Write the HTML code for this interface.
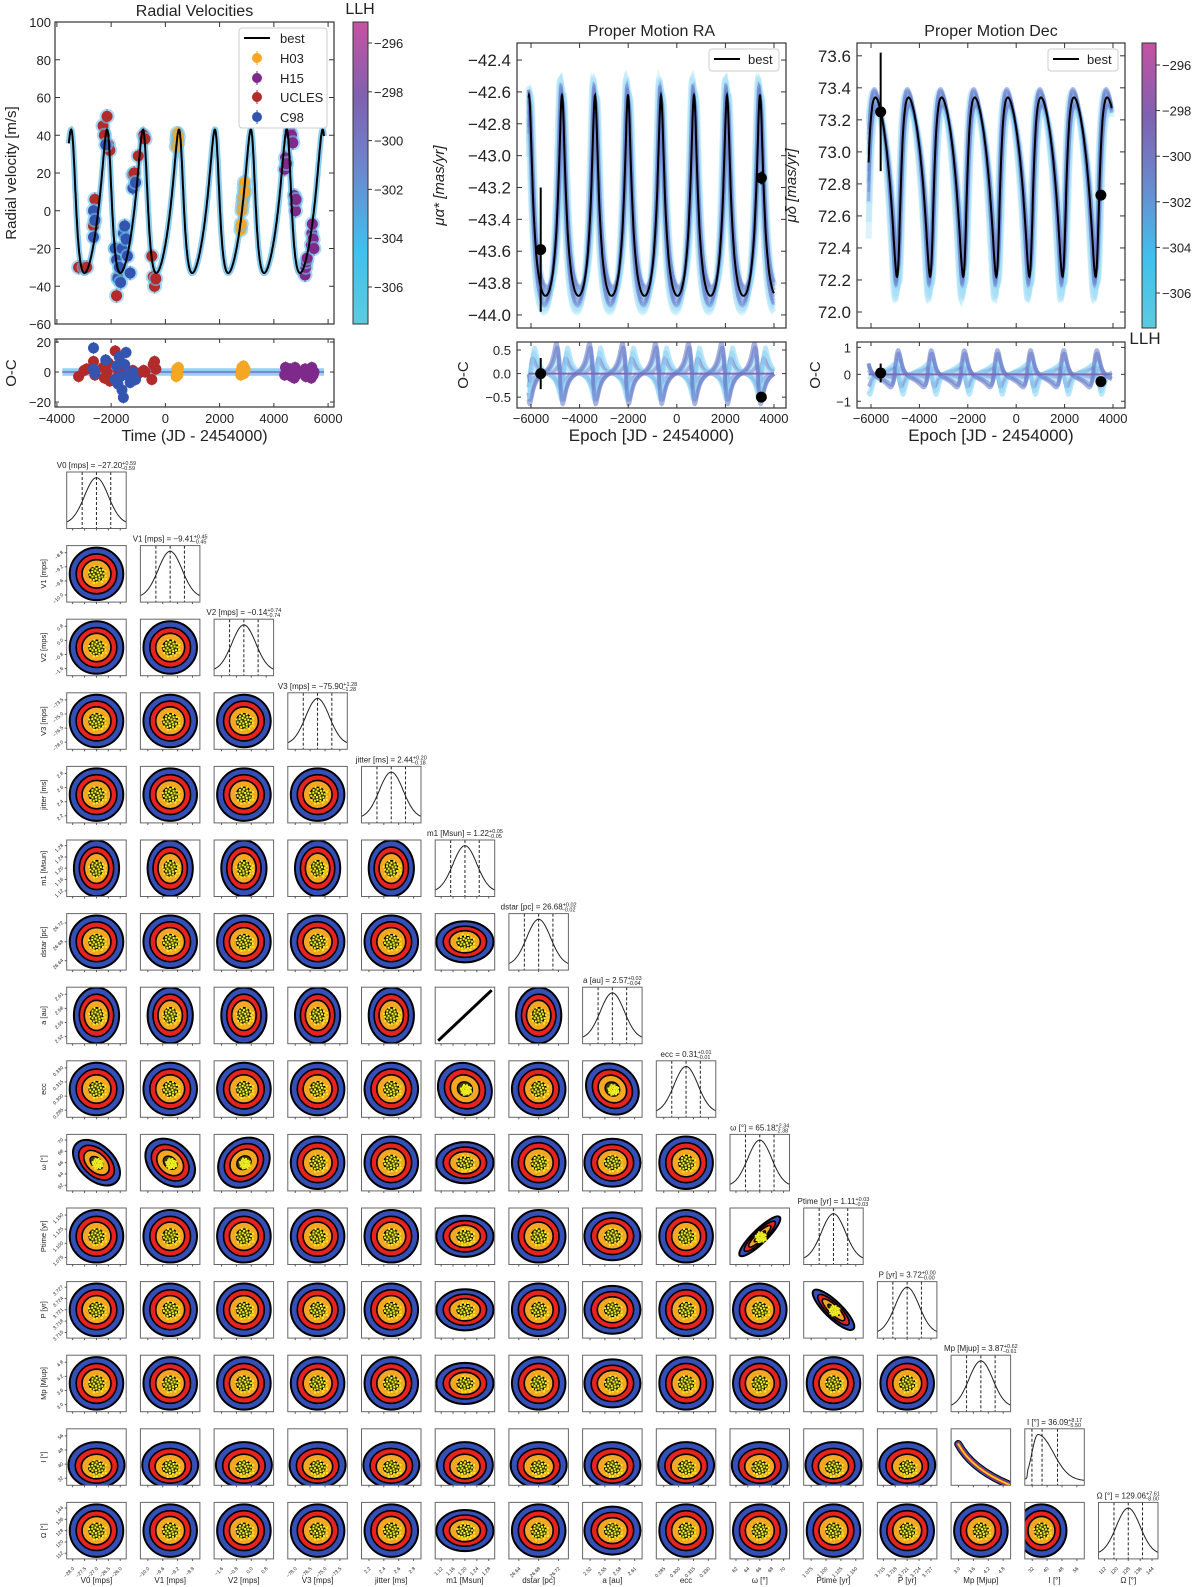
<!DOCTYPE html>
<html><head><meta charset="utf-8">
<style>
html,body{margin:0;padding:0;background:#fff;}
svg{display:block;font-family:"Liberation Sans",sans-serif;}
</style></head>
<body>
<svg id="fig" width="1200" height="1587" viewBox="0 0 1200 1587" xmlns="http://www.w3.org/2000/svg">
<defs>
<linearGradient id="llh" x1="0" y1="1" x2="0" y2="0">
<stop offset="0" stop-color="#5ccbe0"/><stop offset="0.25" stop-color="#3fc0ee"/><stop offset="0.5" stop-color="#6a8ad0"/><stop offset="0.75" stop-color="#8060b0"/><stop offset="1" stop-color="#c752a2"/>
</linearGradient>
</defs>
</svg>
<script>
// ---------- DATA ----------
const c98T=[-2650,-2650,-2600,-2200,-1850,-1800,-1750,-1700,-1650,-1600,-1550,-1500,-1450,-1400,-1300,-1200,-1100];
const c98V=[0,-14,-5,35,-20,-26,-36,-30,-38,-20,-12,-8,-15,-24,-33,12,15];
const c98R=[2,16,-1,8,-5,4,-8,10,-3,-12,-17,5,13,-2,-7,0,-5];
const uclT=[-3200,-3000,-2900,-2650,-2600,-2300,-2250,-2150,-2100,-2050,-1850,-1800,-1750,-1600,-1200,-1150,-1000,-800,-750,-500,-450,-400,-350];
const uclV=[-30,-30,-30,-8,6,45,40,50,35,32,-20,-45,-35,-22,19,20,29,40,38,-24,-35,-40,-36];
const uclR=[-3,1,2,7,-2,3,-4,0,6,-6,14,-4,2,-1,1,0,-1,1,0,-5,5,7,2];
const h03T=[400,420,440,460,480,2780,2800,2820,2840,2860,2880,2900,2920,2940];
const h03V=[34,38,41,36,39,-10,-7,0,3,6,8,12,15,10];
const h03R=[-3,2,0,-2,3,-2,1,3,-1,2,4,-1,0,2];
const h15T=[4400,4430,4470,4600,4650,4700,4750,4780,4800,4820,5150,5180,5200,5230,5380,5400,5420,5450,5480];
const h15V=[22,28,25,42,40,36,8,4,0,6,-34,-30,-27,-25,-18,-12,-7,-15,-20];
const h15R=[-2,3,0,2,-3,1,-4,3,0,-2,2,-3,1,0,-4,3,1,-2,0];
// proper motion measurements
const raT=[-5600,3480], raV=[-43.59,-43.14], raE=[0.39,0.04], raRes=[0.0,-0.5], raResE=[0.33,0.02];
const deT=[-5600,3500], deV=[73.25,72.73], deE=[0.37,0.03], deRes=[0.05,-0.27], deResE=[0.35,0.02];
// orbit model params: [P, featureTime, e, w(deg), lo, hi]
const rvModel=[1325,500,0.31,40,-33,43];
const raModel=[1358,-4724,0.42,0,-43.88,-42.62];
const deModel=[1368,-4926,0.36,40,72.22,73.34];
const bandAmp=[0.9,0.94,0.97,1.03,1.06,1.1,0.92,1.08];
const bandShift=[-70,-45,-20,20,45,70,-90,90];
const llhTicks=[-296,-298,-300,-302,-304,-306];
// corner data
const pNames=["V0 [mps]","V1 [mps]","V2 [mps]","V3 [mps]","jitter [ms]","m1 [Msun]","dstar [pc]","a [au]","ecc","ω [°]","Ptime [yr]","P [yr]","Mp [Mjup]","I [°]","Ω [°]"];
const pMed=["−27.20","−9.41","−0.14","−75.90","2.44","1.22","26.68","2.57","0.31","65.18","1.11","3.72","3.87","36.09","129.06"];
const pUp=["+0.59","+0.45","+0.74","+1.28","+0.20","+0.05","+0.02","+0.03","+0.01","+2.34","+0.03","+0.00","+0.62","+8.17","+7.61"];
const pLo=["−0.59","−0.45","−0.74","−1.28","−0.18","−0.05","−0.02","−0.04","−0.01","−2.38","−0.03","−0.00","−0.61","−5.50","−8.00"];
const pTicks=[["−28.0","−27.5","−27.0","−26.5","−26.0"],["−10.0","−9.6","−9.2","−8.8"],["−1.6","−0.8","0.0","0.8"],["−78.0","−76.5","−75.0","−73.5"],["2.2","2.4","2.6","2.8"],["1.12","1.16","1.20","1.24","1.28"],["26.64","26.68","26.72"],["2.52","2.55","2.58","2.61"],["0.285","0.300","0.315","0.330"],["62","64","66","68","70"],["1.075","1.100","1.125","1.150"],["3.715","3.718","3.721","3.724","3.727"],["3.0","3.6","4.2","4.8"],["32","40","48","56"],["112","120","128","136","144"]];
// correlation overrides: row, col, rho
const corrRow=[9,9,9,10,11,8,8,13];
const corrCol=[0,1,2,9,10,5,7,12];
const corrVal=[-0.45,-0.3,0.2,0.9,-0.85,-0.1,-0.15,-0.95];

// ---------- HELPERS ----------
const NS='http://www.w3.org/2000/svg';
const svg=document.getElementById('fig');
function mk(tag,attrs,parent){const e=document.createElementNS(NS,tag);for(const k in attrs)e.setAttribute(k,attrs[k]);(parent||svg).appendChild(e);return e;}
function txt(x,y,s,size,anchor,parent,extra){const t=mk('text',Object.assign({x:x,y:y,'font-size':size,'text-anchor':anchor||'middle',fill:'#222'},extra||{}),parent);t.textContent=s;return t;}
function lin(a,b,c,d){return v=>c+(v-a)*(d-c)/(b-a);}
function kep(t,P,e,w){let M=2*Math.PI*(((t/P)%1)+1)%(2*Math.PI);let E=M;for(let i=0;i<12;i++)E=E-(E-e*Math.sin(E)-M)/(1-e*Math.cos(E));const nu=2*Math.atan2(Math.sqrt(1+e)*Math.sin(E/2),Math.sqrt(1-e)*Math.cos(E/2));const v=Math.cos(nu+w)+e*Math.cos(w);return (v-(e*Math.cos(w)-1))/2;}
function model(m){const P=m[0],e=m[2],w=m[3]*Math.PI/180;let best=0,bt=0;for(let t=0;t<P;t+=1){const v=kep(t,P,e,w);if(v>best){best=v;bt=t;}}const off=m[1]-bt;return t=>kep(t-off+100*P,P,e,w);}
function frame(x,y,w,h,parent){mk('rect',{x:x,y:y,width:w,height:h,fill:'none',stroke:'#333','stroke-width':1.2},parent);}
function ticksX(g,x,y,w,h,vals,sx,len){vals.forEach(v=>{const X=sx(v);mk('line',{x1:X,y1:y+h,x2:X,y2:y+h-len,stroke:'#333'},g);mk('line',{x1:X,y1:y,x2:X,y2:y+len,stroke:'#333'},g);});}
function ticksY(g,x,y,w,h,vals,sy,len){vals.forEach(v=>{const Y=sy(v);mk('line',{x1:x,y1:Y,x2:x+len,y2:Y,stroke:'#333'},g);mk('line',{x1:x+w,y1:Y,x2:x+w-len,y2:Y,stroke:'#333'},g);});}
function pathFrom(fn,t0,t1,sx,sy,step){let d='';for(let t=t0;t<=t1;t+=step){d+=(d?'L':'M')+sx(t).toFixed(1)+','+sy(fn(t)).toFixed(1);}return d;}
function fmt(v){return (v<0?'−':'')+Math.abs(v);}

// ---------- RADIAL VELOCITY ----------
(function(){
const X0=55,Y0=22,W=279,H=302;
const sx=lin(-4070,6218,X0,X0+W), sy=lin(-60,100,Y0+H,Y0);
const g=mk('g',{});


const t=txt(X0+W/2,16,'Radial Velocities',16,'middle',g);


const cp=mk('clipPath',{id:'rvclip'},g);mk('rect',{x:X0,y:Y0,width:W,height:H},cp);
const f=model(rvModel), lo=rvModel[4], hi=rvModel[5];
const fv=tt=>lo+(hi-lo)*f(tt);
const T0=-3560,T1=5850;
const band=mk('path',{d:pathFrom(fv,T0,T1,sx,sy,8),fill:'none',stroke:'#5ab8ea','stroke-width':6,'stroke-opacity':0.7,'clip-path':'url(#rvclip)'},g);


function pts(T,V,col,name){T.forEach((tt,i)=>{mk('line',{x1:sx(tt),x2:sx(tt),y1:sy(V[i])-7,y2:sy(V[i])+7,stroke:col,'stroke-width':1.5},g);mk('circle',{cx:sx(tt),cy:sy(V[i]),r:7.5,fill:'#6cc3ec','fill-opacity':0.6},g);const d=mk('circle',{cx:sx(tt),cy:sy(V[i]),r:5.5,fill:col},g);

});}
pts(uclT,uclV,'#b22a2a','ucles');pts(c98T,c98V,'#3355b0','c98');pts(h03T,h03V,'#f5a623','h03');pts(h15T,h15V,'#7e2a8a','h15');
const bl=mk('path',{d:pathFrom(fv,T0,T1,sx,sy,8),fill:'none',stroke:'#000','stroke-width':2,'clip-path':'url(#rvclip)'},g);


frame(X0,Y0,W,H,g);
const yt=[-60,-40,-20,0,20,40,60,80,100];
ticksY(g,X0,Y0,W,H,yt,sy,5);ticksX(g,X0,Y0,W,H,[-4000,-2000,0,2000,4000,6000],sx,5);
yt.forEach(v=>txt(X0-4,sy(v)+5,fmt(v),13,'end',g));
const yl=txt(16,Y0+H/2,'Radial velocity [m/s]',15,'middle',g,{transform:'rotate(-90 16 '+(Y0+H/2)+')'});


const lg=mk('g',{},g);


mk('rect',{x:239,y:28,width:88,height:100,fill:'#fff',stroke:'#ccc',rx:3},lg);
mk('line',{x1:244,x2:270,y1:38,y2:38,stroke:'#000','stroke-width':2},lg);txt(280,43,'best',13,'start',lg);
[['H03','#f5a623',58],['H15','#7e2a8a',78],['UCLES','#b22a2a',97],['C98','#3355b0',117]].forEach(a=>{mk('line',{x1:257,x2:257,y1:a[2]-7,y2:a[2]+7,stroke:a[1]},lg);mk('circle',{cx:257,cy:a[2],r:5,fill:a[1]},lg);const e=txt(280,a[2]+5,a[0],13,'start',lg);

});
const cb=mk('rect',{x:353,y:22,width:15,height:302,fill:'url(#llh)',stroke:'#333'},g);


const cbs=lin(-296,-306,43,287);
llhTicks.forEach(v=>{mk('line',{x1:368,x2:372,y1:cbs(v),y2:cbs(v),stroke:'#333'},g);txt(374,cbs(v)+5,fmt(v),13,'start',g);});
txt(360,14,'LLH',16,'middle',g);
const RY=339,RH=68, rsy=lin(-23.3,22,RY+RH,RY);
mk('rect',{x:sx(-3800),y:rsy(2.5),width:sx(5850)-sx(-3800),height:rsy(-2.5)-rsy(2.5),fill:'#62bff0','fill-opacity':0.7},g);
mk('line',{x1:sx(-3800),x2:sx(5850),y1:rsy(0),y2:rsy(0),stroke:'#7a6cc0','stroke-width':1.5},g);
function rpts(T,R,col){T.forEach((tt,i)=>{mk('line',{x1:sx(tt),x2:sx(tt),y1:rsy(R[i])-6,y2:rsy(R[i])+6,stroke:col},g);mk('circle',{cx:sx(tt),cy:rsy(R[i]),r:5.5,fill:col},g);});}
rpts(uclT,uclR,'#b22a2a');rpts(c98T,c98R,'#3355b0');rpts(h03T,h03R,'#f5a623');rpts(h15T,h15R,'#7e2a8a');
frame(X0,RY,W,RH,g);
ticksY(g,X0,RY,W,RH,[-20,0,20],rsy,4);ticksX(g,X0,RY,W,RH,[-4000,-2000,0,2000,4000,6000],sx,4);
[-20,0,20].forEach(v=>txt(X0-4,rsy(v)+5,fmt(v),13,'end',g));
txt(16,RY+RH/2,'O-C',15,'middle',g,{transform:'rotate(-90 16 '+(RY+RH/2)+')'});
[-4000,-2000,0,2000,4000,6000].forEach(v=>txt(sx(v),423,fmt(v),13,'middle',g));
const xl=txt(X0+W/2,441,'Time (JD - 2454000)',16,'middle',g);


})();

// ---------- PROPER MOTION PANELS ----------
function pmPanel(o){
const g=mk('g',{});


const X0=o.x,Y0=43,W=o.w,H=285;
const sx=lin(o.xmin,o.xmax,X0,X0+W), sy=lin(o.ymin,o.ymax,Y0+H,Y0);
txt(X0+W/2,36,o.title,16,'middle',g);
const cid=o.name+'clip';const cp=mk('clipPath',{id:cid},g);mk('rect',{x:X0,y:Y0,width:W,height:H},cp);
const m=o.model,f=model(m),lo=m[4],hi=m[5];
const fv=o.inv?(t=>hi-(hi-lo)*f(t)):(t=>lo+(hi-lo)*f(t));
const t0=-6100,t1=o.tend;
bandAmp.forEach((a,i)=>{const mid=(lo+hi)/2;const fn=t=>mid+(fv(t+bandShift[i])-mid)*a*1.06+o.bandOff;
mk('path',{d:pathFrom(fn,t0,t1,sx,sy,10),fill:'none',stroke:'#8fd6f5','stroke-width':6,'stroke-opacity':0.3,'clip-path':'url(#'+cid+')'},g);});
bandAmp.forEach((a,i)=>{const mid=(lo+hi)/2;const fn=t=>mid+(fv(t+bandShift[i]*0.6)-mid)*a;
const p=mk('path',{d:pathFrom(fn,t0,t1,sx,sy,10),fill:'none',stroke:'#6a7fcc','stroke-width':3,'stroke-opacity':0.45,'clip-path':'url(#'+cid+')'},g);

});
const bl=mk('path',{d:pathFrom(fv,t0,t1,sx,sy,8),fill:'none',stroke:'#000','stroke-width':2,'clip-path':'url(#'+cid+')'},g);


o.T.forEach((t,i)=>{mk('line',{x1:sx(t),x2:sx(t),y1:sy(o.V[i]+o.E[i]),y2:sy(o.V[i]-o.E[i]),stroke:'#000','stroke-width':2},g);const c=mk('circle',{cx:sx(t),cy:sy(o.V[i]),r:5.5,fill:'#000'},g);

});
frame(X0,Y0,W,H,g);
const xt=[-6000,-4000,-2000,0,2000,4000];
ticksX(g,X0,Y0,W,H,xt,sx,5);ticksY(g,X0,Y0,W,H,o.yt,sy,5);
o.yt.forEach(v=>txt(X0-6,sy(v)+6,(v<0?'−':'')+Math.abs(v).toFixed(1),17,'end',g));
const yl=txt(o.ylx,Y0+H/2,o.ylabel,15,'middle',g,{transform:'rotate(-90 '+o.ylx+' '+(Y0+H/2)+')','font-style':'italic'});


const lg=mk('g',{},g);


mk('rect',{x:X0+W-77,y:49,width:70,height:22,fill:'#fff',stroke:'#ccc',rx:3},lg);
mk('line',{x1:X0+W-72,x2:X0+W-46,y1:59,y2:59,stroke:'#000','stroke-width':2},lg);txt(X0+W-38,64,'best',13,'start',lg);
const RY=342,RH=66,rsy=lin(o.rmin,o.rmax,RY+RH,RY);
const rid=cid+'r';const cp2=mk('clipPath',{id:rid},g);mk('rect',{x:X0,y:RY,width:W,height:RH},cp2);
bandAmp.forEach((a,i)=>{const fn=t=>(fv(t+bandShift[i]*2.2)-fv(t))*o.rscale*a;
mk('path',{d:pathFrom(fn,t0,t1,sx,rsy,10),fill:'none',stroke:i%2?'#6a7fcc':'#8fd6f5','stroke-width':4,'stroke-opacity':0.6,'clip-path':'url(#'+rid+')'},g);});
mk('line',{x1:sx(t0),x2:sx(t1),y1:rsy(0),y2:rsy(0),stroke:'#8068b8','stroke-width':2},g);
o.T.forEach((t,i)=>{mk('line',{x1:sx(t),x2:sx(t),y1:rsy(o.R[i]+o.RE[i]),y2:rsy(o.R[i]-o.RE[i]),stroke:'#000','stroke-width':2},g);mk('circle',{cx:sx(t),cy:rsy(o.R[i]),r:5.5,fill:'#000'},g);});
frame(X0,RY,W,RH,g);
ticksX(g,X0,RY,W,RH,xt,sx,4);ticksY(g,X0,RY,W,RH,o.rt,rsy,4);
o.rt.forEach((v,i)=>txt(X0-6,rsy(v)+5,o.rtl[i],13,'end',g));
txt(o.ylx+24,RY+RH/2,'O-C',15,'middle',g,{transform:'rotate(-90 '+(o.ylx+24)+' '+(RY+RH/2)+')'});
xt.forEach(v=>txt(sx(v),423,fmt(v),13,'middle',g));
txt(X0+W/2,441,'Epoch [JD - 2454000)',17,'middle',g);
}
pmPanel({name:'pm-ra-panel',title:'Proper Motion RA',x:517,w:269,xmin:-6576,xmax:4494,ymin:-44.082,ymax:-42.293,
yt:[-44.0,-43.8,-43.6,-43.4,-43.2,-43.0,-42.8,-42.6,-42.4],model:raModel,inv:false,tend:4000,T:raT,V:raV,E:raE,R:raRes,RE:raResE,bandOff:0,
rmin:-0.73,rmax:0.67,rt:[-0.5,0,0.5],rtl:['−0.5','0.0','0.5'],rscale:0.75,ylx:444,ylabel:'μα* [mas/yr]'});
pmPanel({name:'pm-dec-panel',title:'Proper Motion Dec',x:857,w:268,xmin:-6578,xmax:4496,ymin:71.9,ymax:73.68,
yt:[72.0,72.2,72.4,72.6,72.8,73.0,73.2,73.4,73.6],model:deModel,inv:true,tend:3950,T:deT,V:deV,E:deE,R:deRes,RE:deResE,bandOff:-0.05,
rmin:-1.25,rmax:1.2,rt:[-1,0,1],rtl:['−1','0','1'],rscale:1.0,ylx:796,ylabel:'μδ [mas/yr]'});
(function(){const g=mk('g',{});


mk('rect',{x:1142,y:43,width:14,height:285,fill:'url(#llh)',stroke:'#333'},g);
const s=lin(-296,-306,65,293);
llhTicks.forEach(v=>{mk('line',{x1:1156,x2:1160,y1:s(v),y2:s(v),stroke:'#333'},g);txt(1162,s(v)+5,fmt(v),13,'start',g);});
txt(1145,344,'LLH',17,'middle',g);})();

// ---------- CORNER PLOT ----------
(function(){
const g=mk('g',{});


const N=15,CX0=66.7,CY0=472,PX=73.7,PY=73.6,CW=59.5,CH=56.5;
const dots=[];for(let k=0;k<30;k++){const r=Math.sqrt((k+0.5)/30)*0.16,a=k*2.39996;dots.push([r*Math.cos(a),r*Math.sin(a)]);}
function corr(r,c){for(let k=0;k<corrRow.length;k++)if(corrRow[k]===r&&corrCol[k]===c)return corrVal[k];return 0;}
for(let r=0;r<N;r++){for(let c=0;c<=r;c++){
const x=CX0+c*PX,y=CY0+r*PY;
const cell=mk('g',{},g);


const id='cc'+r+'_'+c;const cp=mk('clipPath',{id:id},cell);mk('rect',{x:x,y:y,width:CW,height:CH},cp);
const inner=mk('g',{'clip-path':'url(#'+id+')'},cell);
if(r===c){
 let mu=0.5,s1=0.2,s2=0.2;const dash=[0.26,0.5,0.74];
 if(r===13){mu=0.22;s1=0.1;s2=0.26;dash[0]=0.12;dash[1]=0.29;dash[2]=0.55;}
 let d='';for(let i=0;i<=60;i++){const u=i/60;const s=u<mu?s1:s2;const v=Math.exp(-0.5*((u-mu)/s)**2)*(r===13&&u<0.05?0.35:1);d+=(i?'L':'M')+(x+u*CW).toFixed(1)+','+(y+CH-(0.08+0.82*v)*CH).toFixed(1);}
 const p=mk('path',{d:d,fill:'none',stroke:'#222','stroke-width':1},inner);
 
 
 dash.forEach(u=>mk('line',{x1:x+u*CW,x2:x+u*CW,y1:y,y2:y+CH,stroke:'#222','stroke-dasharray':'3,2','stroke-width':1},inner));
 const tt=txt(x+CW/2,y-4,'',8,'middle',cell);
 tt.innerHTML=pNames[r]+' = '+pMed[r]+'<tspan font-size="5.5" dy="-3">'+pUp[r]+'</tspan><tspan font-size="5.5" dx="-15" dy="5">'+pLo[r]+'</tspan>';
 
 
} else if(r===7&&c===5){
 mk('line',{x1:x+3,y1:y+CH-3,x2:x+CW-3,y2:y+3,stroke:'#000','stroke-width':3},inner);
} else if(r===13&&c===12){
 const d='M'+(x+0.12*CW)+','+(y+0.27*CH)+' Q'+(x+0.35*CW)+','+(y+0.72*CH)+' '+(x+1.0*CW)+','+(y+1.0*CH);
 [['#000',8],['#3450b8',6],['#e8231f',3.5],['#f5a623',2],['#f0f020',0.8]].forEach(s=>mk('path',{d:d,fill:'none',stroke:s[0],'stroke-width':s[1],'stroke-linecap':'round'},inner));
} else {
 const rho=corr(r,c);
 let cx=x+CW/2,cy=y+CH/2,ax=0.45*CW,ay=0.46*CH;
 if((r===5||r===7)&&c<7&&c!==5){ax=0.38*CW;ay=0.49*CH;}
 if(c===5&&r>5){ax=0.48*CW;ay=0.36*CH;}
 if(c===7&&r>7){ax=0.47*CW;ay=0.42*CH;}
 if(r===13){cy=y+0.64*CH;ay=0.40*CH;ax=0.47*CW;}
 if(r===14&&c===13){cx=x+0.28*CW;ax=0.42*CW;}
 if(rho!==0){const ar=Math.abs(rho);ax=0.45*CW/Math.sqrt(1+ar)*1.05;ay=0.46*CH/Math.sqrt(1+ar)*1.05;}
 const ang=rho>0?-45:45,ar=Math.abs(rho);
 const a1=Math.sqrt(1+ar),a2=Math.sqrt(1-ar+0.02);
 [[1,'#3450b8',2],[0.76,'#e8231f',1.6],[0.54,'#f5a623',1.6],[0.28,'#3a3a10',1.2]].forEach(L=>{
  let ycc=cy;if(r===13)ycc=cy+(1-L[0])*0.06*CH;
  const e=mk('ellipse',{cx:0,cy:0,rx:a1*L[0],ry:a2*L[0],fill:L[1],stroke:'#000','stroke-width':L[2],'vector-effect':'non-scaling-stroke',transform:'translate('+cx.toFixed(1)+','+ycc.toFixed(1)+') scale('+ax.toFixed(2)+','+ay.toFixed(2)+') rotate('+(rho===0?0:ang)+')'},inner);
  
  
 });
 const dg=mk('g',{transform:'translate('+cx.toFixed(1)+','+(r===13?cy+0.05*CH:cy).toFixed(1)+')'},inner);
 dots.forEach((p,k)=>mk('rect',{x:(p[0]*CW*(rho?0.6:1)).toFixed(1),y:(p[1]*CH*(rho?0.6:1)).toFixed(1),width:2,height:2,fill:'#f0f020'},dg));
}
mk('rect',{x:x,y:y,width:CW,height:CH,fill:'none',stroke:'#666','stroke-width':1},cell);
const tl=pTicks[c];
tl.forEach((s,k)=>{const u=(k+0.5)/tl.length;mk('line',{x1:x+u*CW,x2:x+u*CW,y1:y+CH,y2:y+CH+2,stroke:'#555'},cell);});
if(c===0&&r>0){const yl=pTicks[r];yl.forEach((s,k)=>{const v=y+CH-(k+0.5)/yl.length*CH;mk('line',{x1:x-2,x2:x,y1:v,y2:v,stroke:'#555'},cell);txt(x-3,v,s,5,'end',cell,{transform:'rotate(-45 '+(x-3)+' '+v+')'});});
 const ly=txt(46,y+CH/2,pNames[r],7.5,'middle',cell,{transform:'rotate(-90 46 '+(y+CH/2)+')'});
 
 }
if(r===N-1){tl.forEach((s,k)=>{const u=x+(k+0.5)/tl.length*CW;txt(u+2,y+CH+10,s,5,'end',cell,{transform:'rotate(-45 '+(u+2)+' '+(y+CH+10)+')'});});
 const lx=txt(x+CW/2,y+CH+24,pNames[c],8,'middle',cell);
 
 }
}}
})();
</script>
</body></html>
